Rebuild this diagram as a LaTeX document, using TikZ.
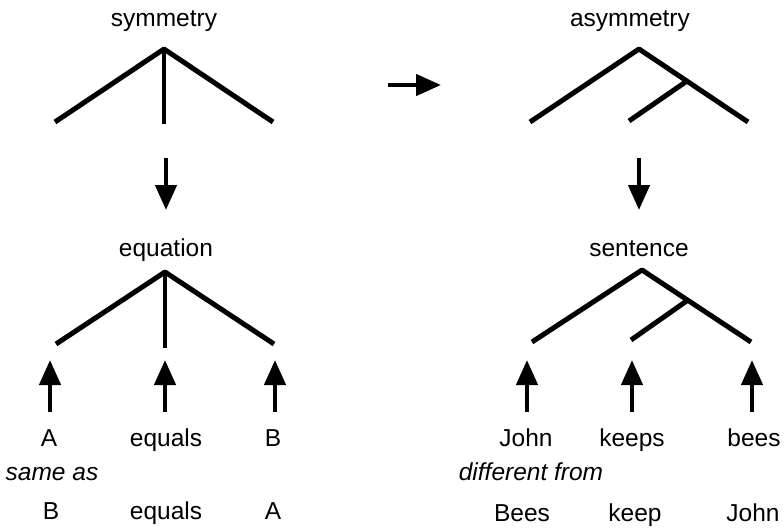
\documentclass[tikz,border=0pt]{standalone}
\usepackage{fontspec}
\setmainfont{Liberation Sans}
\usetikzlibrary{arrows.meta}
\begin{document}
\begin{tikzpicture}[x=1pt,y=-1pt,
  branch/.style={line width=5pt, line join=bevel},
  stemline/.style={line width=4.2pt},
  arr/.style={line width=4.5pt, -{Triangle[length=25pt,width=21pt]}},
  lbl/.style={font=\fontsize{24.5}{29}\selectfont, inner sep=0pt, anchor=base},
  ilbl/.style={lbl, font=\fontsize{24.5}{29}\selectfont\itshape},
  ]
\useasboundingbox (0,0) rectangle (784,528);

% ---------- left top tree ----------
\node[lbl] (sym) at (164,26) {symmetry};
\coordinate (ta) at (164,49);
\coordinate (tl) at (55,122);
\coordinate (tm) at (164,124);
\coordinate (tr) at (273,122);
\draw[branch] (tl) -- (ta) -- (tr);
\draw[stemline] (ta) -- (tm);

\coordinate (d1s) at (166,158);
\coordinate (d1e) at (166,210);
\draw[arr] (d1s) -- (d1e);

\node[lbl] (equ) at (166,256) {equation};
\coordinate (ba) at (165,272);
\coordinate (bl) at (56,344);
\coordinate (bm) at (165,348);
\coordinate (br) at (274,344);
\draw[branch] (bl) -- (ba) -- (br);
\draw[stemline] (ba) -- (bm);

\coordinate (u1s) at (50,412);  \coordinate (u1e) at (50,360);
\coordinate (u2s) at (165,412); \coordinate (u2e) at (165,360);
\coordinate (u3s) at (275,412); \coordinate (u3e) at (275,360);
\draw[arr] (u1s) -- (u1e);
\draw[arr] (u2s) -- (u2e);
\draw[arr] (u3s) -- (u3e);

\node[lbl] (wA) at (49,446) {A};
\node[lbl] (wEq) at (166,446) {equals};
\node[lbl] (wB) at (273,446) {B};
\node[ilbl] (same) at (52,480) {same as};
\node[lbl] (wB2) at (51,519) {B};
\node[lbl] (wEq2) at (166,519) {equals};
\node[lbl] (wA2) at (273,519) {A};

% ---------- middle arrow ----------
\coordinate (hs) at (388,85);
\coordinate (he) at (441,85);
\draw[arr] (hs) -- (he);

% ---------- right top tree ----------
\node[lbl] (asym) at (630,26) {asymmetry};
\coordinate (rta) at (639,49);
\coordinate (rtl) at (530,122);
\coordinate (rtr) at (748,122);
\coordinate (rtj) at (687,81);
\coordinate (rti) at (629,121);
\draw[branch] (rtl) -- (rta) -- (rtr);
\draw[branch] (rtj) -- (rti);

\coordinate (d2s) at (639,158);
\coordinate (d2e) at (639,210);
\draw[arr] (d2s) -- (d2e);

\node[lbl] (sent) at (639,256) {sentence};
\coordinate (rba) at (642,270);
\coordinate (rbl) at (532,342);
\coordinate (rbr) at (751,342);
\coordinate (rbj) at (688,300);
\coordinate (rbi) at (631,340);
\draw[branch] (rbl) -- (rba) -- (rbr);
\draw[branch] (rbj) -- (rbi);

\coordinate (v1s) at (527,412); \coordinate (v1e) at (527,360);
\coordinate (v2s) at (632,412); \coordinate (v2e) at (632,360);
\coordinate (v3s) at (752,412); \coordinate (v3e) at (752,360);
\draw[arr] (v1s) -- (v1e);
\draw[arr] (v2s) -- (v2e);
\draw[arr] (v3s) -- (v3e);

\node[lbl] (wJohn) at (526,446) {John};
\node[lbl] (wKeeps) at (632,446) {keeps};
\node[lbl] (wBees) at (754,446) {bees};
\node[ilbl] (diff) at (531,480) {different from};
\node[lbl] (wBees2) at (522,521) {Bees};
\node[lbl] (wKeep2) at (635,521) {keep};
\node[lbl] (wJohn2) at (753,521) {John};
\end{tikzpicture}
\end{document}
